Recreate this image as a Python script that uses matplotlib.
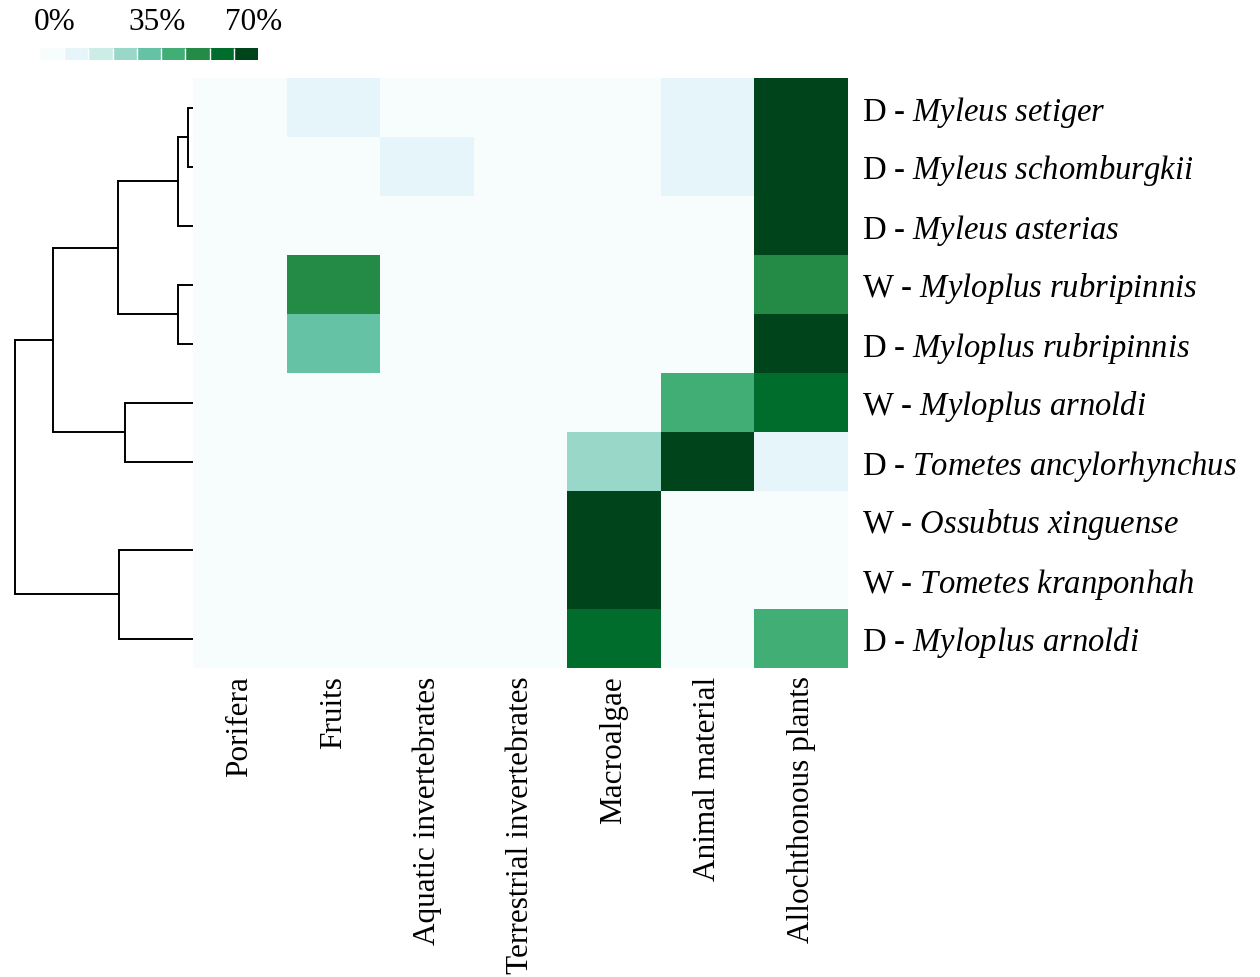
import numpy as np
import matplotlib
matplotlib.use("Agg")
import matplotlib.pyplot as plt
from matplotlib.colors import BoundaryNorm

plt.rcParams['font.family'] = ['Liberation Serif', 'DejaVu Serif']
plt.rcParams['mathtext.fontset'] = 'custom'
plt.rcParams['mathtext.rm'] = 'Liberation Serif'
plt.rcParams['mathtext.it'] = 'Liberation Serif:italic'

# diet items (columns) and species/season (rows, dendrogram order)
items = ["Porifera", "Fruits", "Aquatic invertebrates", "Terrestrial invertebrates",
         "Macroalgae", "Animal material", "Allochthonous plants"]
season = ["D", "D", "D", "W", "D", "W", "D", "W", "W", "D"]
species = ["Myleus setiger", "Myleus schomburgkii", "Myleus asterias",
           "Myloplus rubripinnis", "Myloplus rubripinnis", "Myloplus arnoldi",
           "Tometes ancylorhynchus", "Ossubtus xinguense", "Tometes kranponhah",
           "Myloplus arnoldi"]

# % contribution of each item
diet = np.array([
    [0, 10, 0, 0, 0, 9, 81],
    [0, 0, 10, 0, 0, 9, 81],
    [0, 0, 0, 0, 0, 0, 100],
    [0, 50, 0, 0, 0, 0, 50],
    [0, 35, 0, 0, 0, 0, 65],
    [0, 0, 0, 0, 0, 42, 58],
    [0, 0, 0, 0, 27, 63, 10],
    [0, 0, 0, 0, 100, 0, 0],
    [0, 0, 0, 0, 100, 0, 0],
    [0, 0, 0, 0, 58, 0, 42],
])

# row clustering (scipy-like linkage: child a, child b, height)
linkage = [
    (0, 1, 8),
    (10, 2, 18),
    (3, 4, 18),
    (11, 12, 78),
    (5, 6, 71),
    (13, 14, 143),
    (7, 8, 0),
    (16, 9, 77),
    (15, 17, 181),
]

W, H = 1260, 977
fig = plt.figure(figsize=(W / 100, H / 100), dpi=100)

cmap = plt.get_cmap('BuGn', 9)
bounds = np.linspace(0, 70, 10)
norm = BoundaryNorm(bounds, cmap.N)

# dendrogram (right edge tucked under the heatmap)
dax = fig.add_axes([10 / W, 1 - 668 / H, 190 / W, 590 / H], zorder=1)
pos = {i: (i + 0.5, 0.0) for i in range(len(species))}
for k, (a, b, h) in enumerate(linkage):
    ya, ha = pos[a]
    yb, hb = pos[b]
    dax.plot([ha, h, h, hb], [ya, ya, yb, yb], color='black', lw=1.4,
             solid_joinstyle='miter')
    pos[len(species) + k] = ((ya + yb) / 2, h)
dax.set_xlim(186, -4)
dax.set_ylim(len(species), 0)
dax.axis('off')

# heatmap
ax = fig.add_axes([193 / W, 1 - 668 / H, 655 / W, 590 / H], zorder=2)
ax.pcolormesh(diet, cmap=cmap, norm=norm)
ax.set_xlim(0, len(items))
ax.set_ylim(len(species), 0)
ax.set_xticks(np.arange(len(items)) + 0.5)
ax.set_xticklabels(items, rotation=90, fontsize=22.5, va='top')
ax.set_yticks(np.arange(len(species)) + 0.5)
ax.set_yticklabels([s + " - $\\mathit{" + sp.replace(" ", "\\ ") + "}$"
                    for s, sp in zip(season, species)], fontsize=23.5)
ax.yaxis.tick_right()
ax.tick_params(axis='y', length=0, pad=10)
ax.tick_params(axis='x', length=0, pad=6)
for sp in ax.spines.values():
    sp.set_visible(False)

# colour key
cax = fig.add_axes([40 / W, 1 - 60 / H, 218 / W, 12 / H])
cb = fig.colorbar(plt.cm.ScalarMappable(norm=norm, cmap=cmap), cax=cax,
                  orientation='horizontal', drawedges=True)
cb.set_ticks([])
cb.minorticks_off()
cax.tick_params(which='both', length=0)
cb.outline.set_visible(False)
cb.dividers.set_color('white')
cb.dividers.set_linewidth(1)
for lab, x in zip(["0%", "35%", "70%"], [55, 157, 254]):
    fig.text(x / W, 1 - 22 / H, lab, ha='center', va='center', fontsize=22.5)

fig.savefig("out.png", dpi=100)
